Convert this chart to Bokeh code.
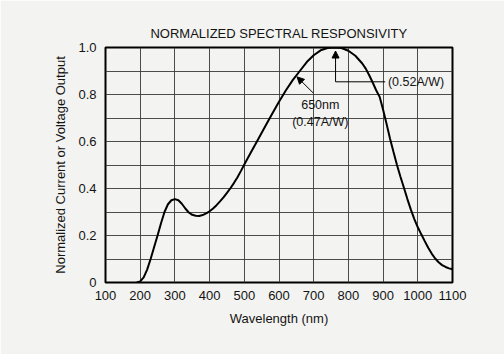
from bokeh.plotting import figure
from bokeh.models import FixedTicker, Label, Arrow, NormalHead, Range1d
from bokeh.embed import file_html
from bokeh.resources import INLINE

# ---- data ----
wavelength = [190, 200, 210, 220, 230, 240, 250, 260, 270, 280, 290, 300, 310, 320,
              330, 340, 350, 360, 370, 380, 390, 400, 410, 420, 430, 440, 450, 460,
              470, 480, 490, 500, 520, 540, 560, 580, 600, 620, 640, 660, 680, 700,
              720, 740, 760, 780, 800, 820, 840, 850, 860, 870, 880, 890, 900, 910,
              920, 930, 940, 950, 960, 970, 980, 990, 1000, 1010, 1020, 1030, 1040,
              1050, 1060, 1070, 1080, 1090, 1100]
response = [0.0, 0.005, 0.022, 0.055, 0.1, 0.15, 0.2, 0.252, 0.3, 0.333, 0.35, 0.355,
            0.35, 0.335, 0.315, 0.298, 0.288, 0.284, 0.283, 0.287, 0.294, 0.303, 0.315,
            0.329, 0.345, 0.362, 0.381, 0.401, 0.423, 0.447, 0.474, 0.502, 0.556,
            0.61, 0.664, 0.717, 0.769, 0.818, 0.862, 0.9, 0.938, 0.967, 0.988, 0.998,
            1.0, 0.998, 0.986, 0.965, 0.932, 0.91, 0.882, 0.851, 0.818, 0.79, 0.735,
            0.675, 0.612, 0.555, 0.5, 0.45, 0.403, 0.355, 0.31, 0.27, 0.235, 0.205,
            0.176, 0.148, 0.123, 0.102, 0.086, 0.074, 0.066, 0.06, 0.056]

x_ticks = [100, 200, 300, 400, 500, 600, 700, 800, 900, 1000, 1100]
y_ticks = [0, 0.2, 0.4, 0.6, 0.8, 1.0]
y_tick_labels = ["0", "0.2", "0.4", "0.6", "0.8", "1.0"]
y_grid = [0.1, 0.2, 0.3, 0.4, 0.5, 0.6, 0.7, 0.8, 0.9]

title_text = "NORMALIZED SPECTRAL RESPONSIVITY"
note1 = ["650nm", "(0.47A/W)"]
note2 = "(0.52A/W)"

FONT = "Liberation Sans"
BG = "#f3f3f1"
INK = "#141414"

p = figure(width=504, height=354, output_backend="svg", toolbar_location=None,
           x_range=Range1d(100, 1100), y_range=Range1d(0, 1.0),
           min_border_left=105, min_border_right=52, min_border_top=47,
           min_border_bottom=72, background_fill_color=BG, border_fill_color=BG)

p.title.text = title_text
p.title.align = "center"
p.title.text_font = FONT
p.title.text_font_size = "13px"
p.title.text_font_style = "normal"
p.title.text_color = INK
p.title.standoff = 13

p.outline_line_color = "black"
p.outline_line_width = 2
p.outline_line_alpha = 1

p.xaxis.ticker = FixedTicker(ticks=x_ticks)
p.yaxis.ticker = FixedTicker(ticks=y_ticks)
p.yaxis.major_label_overrides = {v: s for v, s in zip(y_ticks, y_tick_labels)}
for ax in (p.xaxis, p.yaxis):
    ax.axis_line_color = None
    ax.major_tick_line_color = None
    ax.minor_tick_line_color = None
    ax.major_tick_out = 0
    ax.major_tick_in = 0
    ax.major_label_text_font = FONT
    ax.major_label_text_font_size = "13px"
    ax.major_label_text_color = INK
    ax.axis_label_text_font = FONT
    ax.axis_label_text_font_size = "13px"
    ax.axis_label_text_font_style = "normal"
    ax.axis_label_text_color = INK
p.xaxis.major_label_standoff = 8
p.yaxis.major_label_standoff = 9
p.xaxis.axis_label = "Wavelength (nm)"
p.yaxis.axis_label = "Normalized Current or Voltage Output"
p.xaxis.axis_label_standoff = 8
p.yaxis.axis_label_standoff = 7

p.xgrid.ticker = FixedTicker(ticks=x_ticks[1:-1])
p.ygrid.ticker = FixedTicker(ticks=y_grid)
p.grid.grid_line_color = "#3a3a3a"
p.grid.grid_line_width = 1
p.grid.grid_line_alpha = 0.9

p.line(wavelength, response, line_color="black", line_width=2)

# annotation 1: 650nm
p.add_layout(Arrow(x_start=699, y_start=0.806, x_end=652, y_end=0.875,
                   line_color="black", line_width=1,
                   end=NormalHead(size=7, fill_color="black", line_color="black")))
p.add_layout(Label(x=719, y=0.757, text=note1[0], text_align="center",
                   text_baseline="middle", text_font=FONT, text_font_size="12.5px",
                   text_color=INK))
p.add_layout(Label(x=719, y=0.684, text=note1[1], text_align="center",
                   text_baseline="middle", text_font=FONT, text_font_size="12.5px",
                   text_color=INK))

# annotation 2: (0.52A/W)
p.line([763, 763, 906], [0.93, 0.854, 0.854], line_color="black", line_width=1)
p.add_layout(Arrow(x_start=763, y_start=0.93, x_end=763, y_end=0.985,
                   line_color="black", line_width=1,
                   end=NormalHead(size=7, fill_color="black", line_color="black")))
p.add_layout(Label(x=914, y=0.854, text=note2, text_align="left",
                   text_baseline="middle", text_font=FONT, text_font_size="12.5px",
                   text_color=INK))

open("out.html", "w").write(file_html(p, INLINE))
